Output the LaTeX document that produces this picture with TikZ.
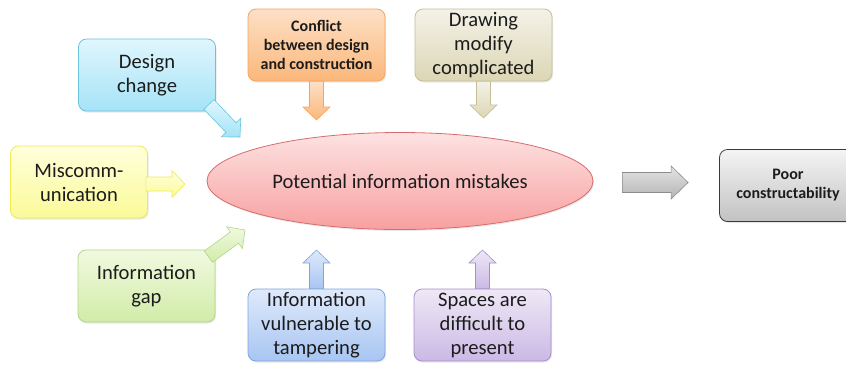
\documentclass[tikz,border=0pt]{standalone}
\usepackage{fontspec}
\setmainfont{Carlito}
\usetikzlibrary{calc,shapes.geometric,shadows}
\definecolor{txt}{HTML}{1C1C1C}
\definecolor{dcA}{HTML}{E0F6FD}\definecolor{dcB}{HTML}{A5E3F7}\definecolor{dcC}{HTML}{6CC3DC}
\definecolor{cfA}{HTML}{FDE0C6}\definecolor{cfB}{HTML}{FBB77A}\definecolor{cfC}{HTML}{F4A460}
\definecolor{dmA}{HTML}{F4F2E8}\definecolor{dmB}{HTML}{DCD6B4}\definecolor{dmC}{HTML}{C6BF95}
\definecolor{mcA}{HTML}{FFFFDC}\definecolor{mcB}{HTML}{FBFA98}\definecolor{mcC}{HTML}{EFEA52}
\definecolor{igA}{HTML}{F1F9E0}\definecolor{igB}{HTML}{D1ECA8}\definecolor{igC}{HTML}{B0D788}
\definecolor{vtA}{HTML}{DFEAFB}\definecolor{vtB}{HTML}{A8C5F2}\definecolor{vtC}{HTML}{7EA5DE}
\definecolor{spA}{HTML}{EEE8F6}\definecolor{spB}{HTML}{CBB9E5}\definecolor{spC}{HTML}{A68DCB}
\definecolor{pcA}{HTML}{F4F4F4}\definecolor{pcB}{HTML}{C2C2C2}\definecolor{pcC}{HTML}{3A3A3A}
\definecolor{peA}{HTML}{FDE2E2}\definecolor{peB}{HTML}{F8A0A0}\definecolor{peC}{HTML}{D86C6C}
\definecolor{gA}{HTML}{E4E4E4}\definecolor{gB}{HTML}{B4B4B4}\definecolor{gC}{HTML}{8C8C8C}
\newcommand\blockarrow[6]{%
  \coordinate (ba-h) at ($(#3)!#6!(#2)$);
  \path[#1] ($(#2)!#4!90:(#3)$) -- ($(ba-h)!#4!90:(#3)$) -- ($(ba-h)!#5!90:(#3)$) -- (#3)
    -- ($(ba-h)!#5!-90:(#3)$) -- ($(ba-h)!#4!-90:(#3)$) -- ($(#2)!#4!-90:(#3)$) -- cycle;
}
\tikzset{
  box/.style={rectangle, rounded corners=8pt, minimum width=137pt, minimum height=72pt,
    align=center, inner sep=2pt, font=\fontsize{20.6}{24}\selectfont, text=txt, line width=0.8pt,
    drop shadow={opacity=0.18, shadow xshift=1pt, shadow yshift=-1.5pt}},
  boldbox/.style={box, font=\bfseries\fontsize{16}{19}\selectfont},
  shadeit/.style={top color=#1A, bottom color=#1B, draw=#1C},
  arr/.style={top color=#1A, bottom color=#1B, draw=#1C, line width=0.6pt},
}
\begin{document}
\begin{tikzpicture}[x=1pt,y=-1pt]
\useasboundingbox (0,0) rectangle (846,365);
\clip (0,0) rectangle (846,365);
% boxes
\node[box, shadeit=dc] (dc) at (147,75) {Design\\change};
\node[boldbox, shadeit=cf] (cf) at (316.5,45) {Conflict\\between design\\and construction};
\node[box, shadeit=dm] (dm) at (483.5,45) {Drawing\\modify\\complicated};
\node[box, shadeit=mc] (mc) at (79,182) {Miscomm-\\unication};
\node[box, shadeit=ig] (ig) at (146.5,286) {Information\\gap};
\node[box, shadeit=vt] (vt) at (316.5,325) {Information\\vulnerable to\\tampering};
\node[box, shadeit=sp] (sp) at (482.5,325) {Spaces are\\difficult to\\present};
\node[boldbox, shadeit=pc] (pc) at (788,185.5) {Poor\\constructability};
\node[ellipse, minimum width=386pt, minimum height=97pt, inner sep=0pt,
  shadeit=pe, line width=0.8pt,
  drop shadow={opacity=0.18, shadow xshift=1pt, shadow yshift=-1.5pt},
  font=\fontsize{20.6}{24}\selectfont, text=txt] (pe) at (400,181) {Potential information mistakes};
% arrow end points
\coordinate (dc-t) at (240,137);
\coordinate (dc-s) at ($(dc.south east)+(-7,-7)$);
\coordinate (cf-t) at (316.5,120);
\coordinate (dm-t) at (483.5,118);
\coordinate (mc-t) at (185,184);
\coordinate (mc-s) at ($(mc.east)+(-2,2)$);
\coordinate (ig-t) at (245,230);
\coordinate (ig-s) at ($(ig.north east)+(-7,7)$);
\coordinate (vt-t) at (316.5,250);
\coordinate (sp-t) at (482.5,250);
\coordinate (g-s) at ($(pe.east)+(29,1.5)$);
\coordinate (g-t) at ($(pc.west)+(-31,-3)$);
% block arrows
\blockarrow{arr=dc}{dc-s}{dc-t}{7pt}{13.5pt}{13pt}
\blockarrow{arr=cf}{cf.south}{cf-t}{7pt}{13.5pt}{13pt}
\blockarrow{arr=dm}{dm.south}{dm-t}{7pt}{13.5pt}{13pt}
\blockarrow{arr=mc}{mc-s}{mc-t}{7pt}{13.5pt}{13pt}
\blockarrow{arr=ig}{ig-s}{ig-t}{7pt}{13.5pt}{13pt}
\blockarrow{arr=vt}{vt.north}{vt-t}{7pt}{13.5pt}{13pt}
\blockarrow{arr=sp}{sp.north}{sp-t}{7pt}{13.5pt}{13pt}
\blockarrow{arr=g}{g-s}{g-t}{10pt}{16.5pt}{17pt}
\end{tikzpicture}
\end{document}
